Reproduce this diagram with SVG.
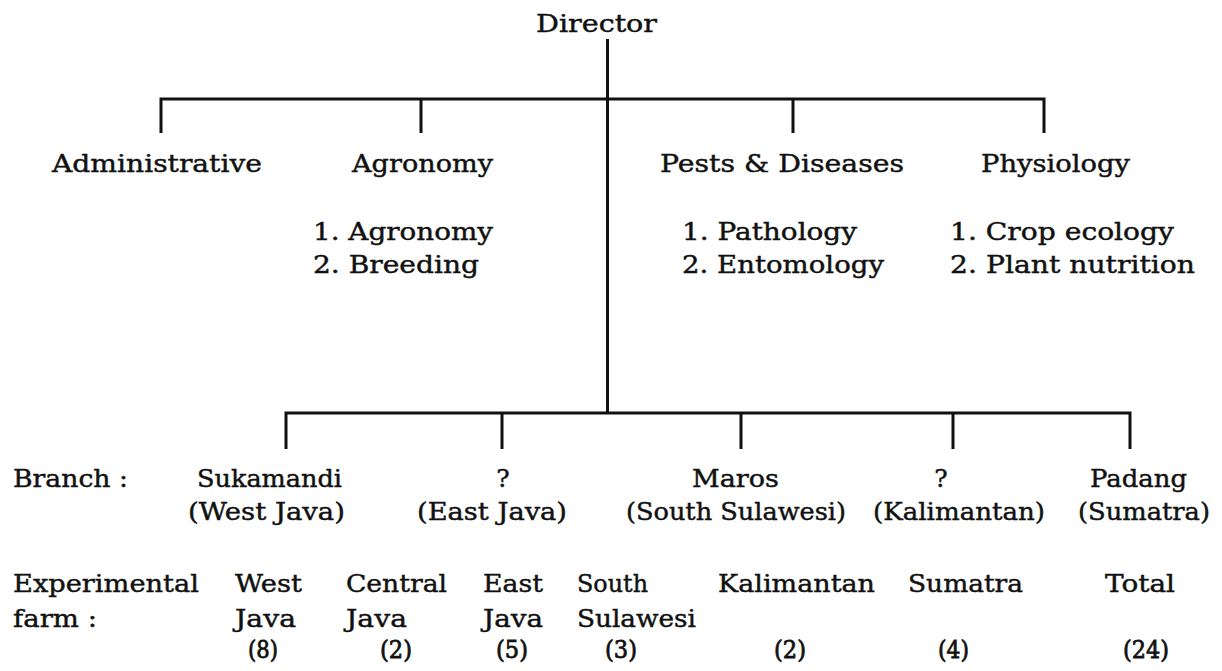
<svg xmlns="http://www.w3.org/2000/svg" width="1222" height="671" viewBox="0 0 1222 671">
<style>
text{font-family:"DejaVu Serif","Liberation Serif",serif;font-size:25px;fill:#111;stroke:#111;stroke-width:0.45px}
.n{stroke-width:0.8px}
.c{text-anchor:middle}
.ln{fill:none;stroke:#111;stroke-width:3;stroke-linejoin:miter}
</style>
<rect width="1222" height="671" fill="#fff"/>
<g id="connectors">
<path class="ln" d="M607.5,39 V413"/>
<path class="ln" d="M161,133 V99 H1044 V133"/>
<path class="ln" d="M421,99 V133 M793,99 V133"/>
<path class="ln" d="M286,449 V413 H1130 V449"/>
<path class="ln" d="M502,413 V449 M741,413 V449 M953,413 V449"/>
</g>
<g id="director"><text x="536" y="32" textLength="121" lengthAdjust="spacingAndGlyphs">Director</text></g>
<g id="administrative"><text x="52" y="172" textLength="210" lengthAdjust="spacingAndGlyphs">Administrative</text></g>
<g id="agronomy">
<text x="352" y="172" textLength="141" lengthAdjust="spacingAndGlyphs">Agronomy</text>
<text x="313" y="240" textLength="180" lengthAdjust="spacingAndGlyphs">1.  Agronomy</text>
<text x="313" y="273" textLength="166" lengthAdjust="spacingAndGlyphs">2.  Breeding</text>
</g>
<g id="pests">
<text x="660" y="172" textLength="244" lengthAdjust="spacingAndGlyphs">Pests &amp; Diseases</text>
<text x="682" y="240" textLength="175" lengthAdjust="spacingAndGlyphs">1.  Pathology</text>
<text x="682" y="273" textLength="202" lengthAdjust="spacingAndGlyphs">2.  Entomology</text>
</g>
<g id="physiology">
<text x="981" y="172" textLength="149" lengthAdjust="spacingAndGlyphs">Physiology</text>
<text x="950" y="240" textLength="224" lengthAdjust="spacingAndGlyphs">1.  Crop ecology</text>
<text x="950" y="273" textLength="245" lengthAdjust="spacingAndGlyphs">2.  Plant nutrition</text>
</g>
<g id="branch-label"><text x="13" y="487" textLength="115" lengthAdjust="spacingAndGlyphs">Branch :</text></g>
<g id="branch-sukamandi">
<text x="197" y="487" textLength="145" lengthAdjust="spacingAndGlyphs">Sukamandi</text>
<text x="188" y="520" textLength="157" lengthAdjust="spacingAndGlyphs">(West Java)</text>
</g>
<g id="branch-eastjava">
<text class="c" x="503" y="487">?</text>
<text x="417" y="520" textLength="150" lengthAdjust="spacingAndGlyphs">(East Java)</text>
</g>
<g id="branch-maros">
<text x="692" y="487" textLength="87" lengthAdjust="spacingAndGlyphs">Maros</text>
<text x="626" y="520" textLength="220" lengthAdjust="spacingAndGlyphs">(South Sulawesi)</text>
</g>
<g id="branch-kalimantan">
<text class="c" x="941" y="487">?</text>
<text x="873" y="520" textLength="172" lengthAdjust="spacingAndGlyphs">(Kalimantan)</text>
</g>
<g id="branch-padang">
<text x="1090" y="487" textLength="97" lengthAdjust="spacingAndGlyphs">Padang</text>
<text x="1078" y="520" textLength="132" lengthAdjust="spacingAndGlyphs">(Sumatra)</text>
</g>
<g id="farm-label">
<text x="13" y="592" textLength="186" lengthAdjust="spacingAndGlyphs">Experimental</text>
<text x="13" y="627" textLength="84" lengthAdjust="spacingAndGlyphs">farm :</text>
</g>
<g id="farm-westjava">
<text x="235" y="592" textLength="67" lengthAdjust="spacingAndGlyphs">West</text>
<text x="235" y="627" textLength="61" lengthAdjust="spacingAndGlyphs">Java</text>
<text class="n" x="248" y="658" textLength="30" lengthAdjust="spacingAndGlyphs">(8)</text>
</g>
<g id="farm-centraljava">
<text x="346" y="592" textLength="101" lengthAdjust="spacingAndGlyphs">Central</text>
<text x="346" y="627" textLength="61" lengthAdjust="spacingAndGlyphs">Java</text>
<text class="n" x="380" y="658" textLength="32" lengthAdjust="spacingAndGlyphs">(2)</text>
</g>
<g id="farm-eastjava">
<text x="483" y="592" textLength="60" lengthAdjust="spacingAndGlyphs">East</text>
<text x="483" y="627" textLength="60" lengthAdjust="spacingAndGlyphs">Java</text>
<text class="n" x="496" y="658" textLength="32" lengthAdjust="spacingAndGlyphs">(5)</text>
</g>
<g id="farm-southsulawesi">
<text x="577" y="592" textLength="71" lengthAdjust="spacingAndGlyphs">South</text>
<text x="577" y="627" textLength="119" lengthAdjust="spacingAndGlyphs">Sulawesi</text>
<text class="n" x="605" y="658" textLength="32" lengthAdjust="spacingAndGlyphs">(3)</text>
</g>
<g id="farm-kalimantan">
<text x="718" y="592" textLength="157" lengthAdjust="spacingAndGlyphs">Kalimantan</text>
<text class="n" x="774" y="658" textLength="32" lengthAdjust="spacingAndGlyphs">(2)</text>
</g>
<g id="farm-sumatra">
<text x="908" y="592" textLength="115" lengthAdjust="spacingAndGlyphs">Sumatra</text>
<text class="n" x="938" y="658" textLength="31" lengthAdjust="spacingAndGlyphs">(4)</text>
</g>
<g id="farm-total">
<text x="1105" y="592" textLength="70" lengthAdjust="spacingAndGlyphs">Total</text>
<text class="n" x="1123" y="658" textLength="46" lengthAdjust="spacingAndGlyphs">(24)</text>
</g>
</svg>
